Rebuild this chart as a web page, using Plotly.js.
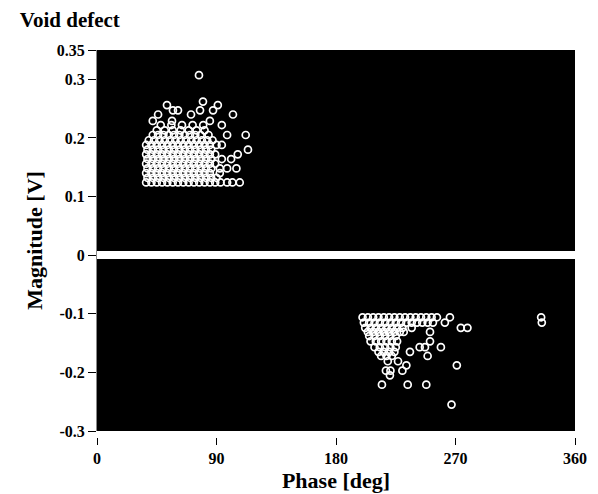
<!DOCTYPE html>
<html>
<head>
<meta charset="utf-8">
<script src="https://cdn.plot.ly/plotly-3.0.1.min.js"></script>
<style>html,body{margin:0;padding:0;background:#fff;}#chart{width:598px;height:494px;}</style>
</head>
<body>
<div id="chart"></div>
<script>
// Positive cluster: magnitude rows and the phases found on each row
const posMag = [0.124, 0.132, 0.140, 0.148, 0.156, 0.164, 0.172, 0.180, 0.188, 0.196, 0.205, 0.213, 0.222, 0.229, 0.240, 0.247, 0.256, 0.262, 0.307];
const posPhase = [
  [37,41,45,49,53,57,61,65,69,73,77,81,85,89,93,98,102,107.5],
  [38,42,46,50,54,58,62,66,70,74,78,82,86,90],
  [37,41,45,49,53,57,61,65,69,73,77,81,85,92.5],
  [38,42,46,50,54,58,62,66,70,74,78,82,86,92.5,98,105],
  [37,41,45,49,53,57,61,65,69,73,77,81,85,89],
  [38,42,46,50,54,58,62,66,70,74,78,82,86,94,101],
  [37,41,45,49,53,57,61,65,69,73,77,81,85,89,106],
  [38,42,46,50,54,58,62,66,70,74,78,82,86,113.7],
  [37,41,45,49,53,57,61,65,69,73,77,81,85,90,94],
  [39,43,47,51,55,59,63,67,71,75,79,83,87],
  [42,46,50,54,58,62,66,70,74,78,84,98,112],
  [45,51,57,63,69,75,81],
  [48,56,64,72,80,94],
  [42,56.5,85],
  [46,70.8,102.4],
  [57.2,61,77.6,87.4],
  [52.7,91],
  [79.8],
  [76.8]
];
// Negative cluster
const negMag = [-0.106, -0.115, -0.124, -0.131, -0.138, -0.147, -0.157, -0.165, -0.172, -0.181, -0.188, -0.197, -0.205, -0.221, -0.255];
const negPhase = [
  [200,204,208,212,216,220,224,228,232,236,240,244,248,252,256,265.8,334.5],
  [201,205,209,213,217,221,225,229,233,237,241,245,249,253,262,335],
  [202,206,210,214,218,222,226,230,237,274,279],
  [204,208,212,216,220,224,228,231,250.8],
  [205,209,213,217,221,225],
  [206,210,214,218,222,226,250.8],
  [209,213,217,221,225,243,247,259],
  [212,216,220,224,235.7],
  [214,218,222,249],
  [219,226.7],
  [233,271],
  [217.6,221,230],
  [220.6],
  [214.6,234,248],
  [267]
];
const xTicks = [0, 90, 180, 270, 360];
const yTicks = [0.35, 0.3, 0.2, 0.1, 0, -0.1, -0.2, -0.3];
const yTickText = ['0.35', '0.3', '0.2', '0.1', '0', '-0.1', '-0.2', '-0.3'];

function flatten(mags, phases) {
  const x = [], y = [];
  mags.forEach((m, i) => phases[i].forEach(p => { x.push(p); y.push(m); }));
  return {x, y};
}
const pos = flatten(posMag, posPhase);
const neg = flatten(negMag, negPhase);

const marker = {symbol: 'circle-open', color: '#ffffff', size: 7, line: {width: 1.7, color: '#ffffff'}};
const traces = [
  {type: 'scatter', mode: 'markers', x: pos.x, y: pos.y, marker: marker, hoverinfo: 'x+y'},
  {type: 'scatter', mode: 'markers', x: neg.x, y: neg.y, marker: marker, hoverinfo: 'x+y'}
];
const serif = 'Liberation Serif, Times New Roman, serif';
const layout = {
  width: 598, height: 494,
  margin: {l: 97, r: 23, t: 50, b: 57},
  paper_bgcolor: '#ffffff',
  plot_bgcolor: '#000000',
  showlegend: false,
  title: {text: 'Void defect', x: 0.033, xanchor: 'left', xref: 'container', y: 0.96, yref: 'container', yanchor: 'middle',
          font: {family: serif, size: 21, color: '#000', weight: 'bold'}},
  xaxis: {
    range: [0, 360], tickvals: xTicks, ticktext: xTicks.map(String),
    anchor: 'free', position: 0,
    showgrid: false, zeroline: false, showline: false,
    ticks: 'outside', ticklen: 7, tickwidth: 1, tickcolor: '#000',
    tickfont: {family: serif, size: 16, color: '#000', weight: 'bold'},
    title: {text: 'Phase [deg]', font: {family: serif, size: 22, color: '#000', weight: 'bold'}, standoff: 6}
  },
  yaxis: {
    range: [-0.3, 0.35], domain: [0.0155, 1], tickvals: yTicks, ticktext: yTickText,
    showgrid: false, zeroline: true, zerolinecolor: '#ffffff', zerolinewidth: 8,
    showline: true, linecolor: '#888888', linewidth: 1,
    ticks: 'outside', ticklen: 8, tickwidth: 1, tickcolor: '#000',
    tickfont: {family: serif, size: 16, color: '#000', weight: 'bold'},
    title: {text: 'Magnitude [V]', font: {family: serif, size: 22, color: '#000', weight: 'bold'}, standoff: 8}
  }
};
Plotly.newPlot('chart', traces, layout, {displayModeBar: false, staticPlot: true});
</script>
</body>
</html>
